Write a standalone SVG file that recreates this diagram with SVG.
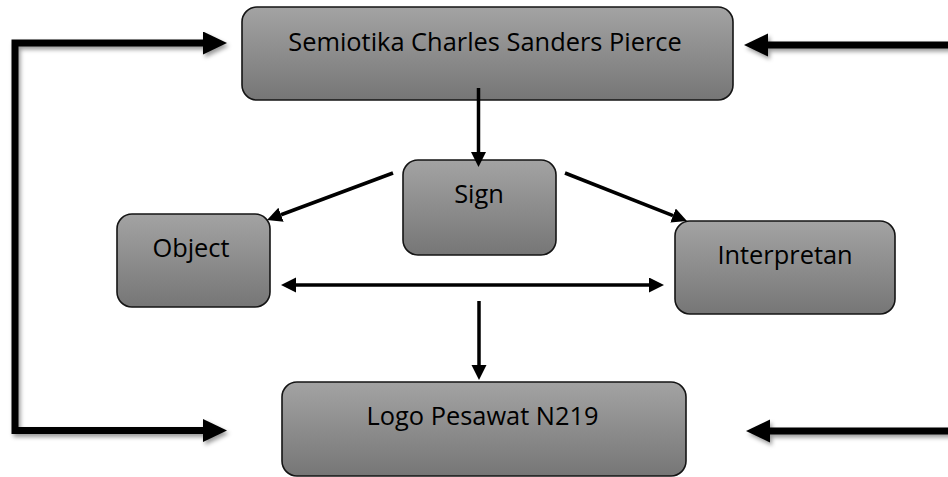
<svg xmlns="http://www.w3.org/2000/svg" width="948" height="477" viewBox="0 0 948 477">
  <defs>
    <linearGradient id="boxFill" x1="0" y1="0" x2="0" y2="1">
      <stop offset="0" stop-color="#a3a3a3"/>
      <stop offset="1" stop-color="#767676"/>
    </linearGradient>
    <filter id="shadow" x="-10%" y="-10%" width="120%" height="120%">
      <feDropShadow dx="2" dy="3" stdDeviation="2" flood-color="#000" flood-opacity="0.4"/>
    </filter>
    <marker id="thin" markerUnits="userSpaceOnUse" markerWidth="16" markerHeight="16" refX="0" refY="7.5" orient="auto-start-reverse">
      <path d="M0,0 L15,7.5 L0,15 z" fill="#000"/>
    </marker>
    <marker id="thick" markerUnits="userSpaceOnUse" markerWidth="25" markerHeight="24" refX="0" refY="11.5" orient="auto-start-reverse">
      <path d="M0,0 L24,11.5 L0,23 z" fill="#000"/>
    </marker>
  </defs>
  <style>
    .box { fill: url(#boxFill); stroke: #141414; stroke-width: 1.6; }
    .lbl { font-family: "Open Sans", "Liberation Sans", sans-serif; font-size: 25.4px; fill: #000; text-anchor: middle; }
    .thin { fill: none; stroke: #000; stroke-width: 3.5; }
    .thick { fill: none; stroke: #000; stroke-width: 7; stroke-linejoin: miter; }
  </style>
  <rect width="948" height="477" fill="#fff"/>

  <g id="node-top">
    <rect class="box" x="242" y="7" width="491" height="93" rx="15"/>
    <text class="lbl" x="485" y="51">Semiotika Charles Sanders Pierce</text>
  </g>
  <g id="node-sign">
    <rect class="box" x="403" y="160" width="153" height="95" rx="15"/>
    <text class="lbl" x="479" y="203">Sign</text>
  </g>
  <g id="node-object">
    <rect class="box" x="117" y="214" width="153" height="93" rx="15"/>
    <text class="lbl" x="191" y="257">Object</text>
  </g>
  <g id="node-interpretan">
    <rect class="box" x="675" y="221" width="220" height="93" rx="15"/>
    <text class="lbl" x="785" y="264">Interpretan</text>
  </g>
  <g id="node-logo">
    <rect class="box" x="282" y="382" width="404" height="94" rx="15"/>
    <text class="lbl" x="482.5" y="425">Logo Pesawat N219</text>
  </g>

  <g id="connectors">
    <path class="thin" d="M478.5,88 V152" marker-end="url(#thin)"/>
    <path class="thin" d="M393,173 L281.05,214.76" marker-end="url(#thin)"/>
    <path class="thin" d="M565,173 L673.04,215.51" marker-end="url(#thin)"/>
    <path class="thin" d="M296,285 H649" marker-start="url(#thin)" marker-end="url(#thin)"/>
    <path class="thin" d="M479,301 V365" marker-end="url(#thin)"/>
    <g filter="url(#shadow)">
      <path class="thick" d="M203,43 H15 V430.5 H203" marker-start="url(#thick)" marker-end="url(#thick)"/>
      <path class="thick" d="M768,45 H956 V431 H770" marker-start="url(#thick)" marker-end="url(#thick)"/>
    </g>
  </g>
</svg>
